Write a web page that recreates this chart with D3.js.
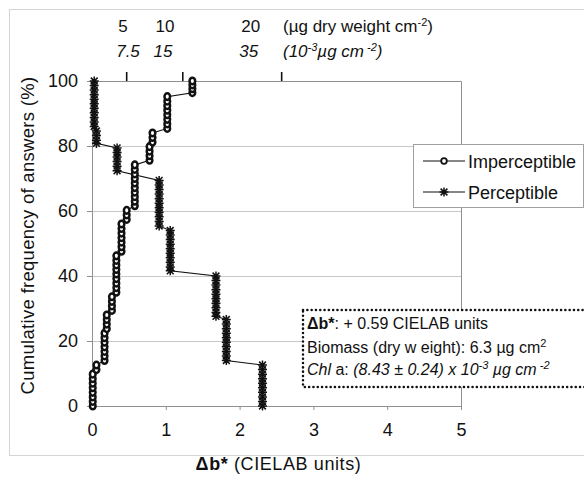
<!DOCTYPE html>
<html>
<head>
<meta charset="utf-8">
<script src="https://cdn.jsdelivr.net/npm/d3@7"></script>
<style>
  body { margin: 0; background: #fff; }
  text { font-family: "Liberation Sans", Arial, sans-serif; }
</style>
</head>
<body>
<div id="chart"></div>
<script>
// data
var imperX = [0.01,0.01,0.01,0.01,0.01,0.01,0.01,0.01,
              0.06,0.06,
              0.17,0.17,0.17,0.17,0.17,0.17,0.17,
              0.20,0.20,0.20,0.20,
              0.27,0.27,0.27,0.27,
              0.33,0.33,0.33,0.33,0.33,0.33,0.33,0.33,0.33,
              0.40,0.40,0.40,0.40,0.40,0.40,0.40,
              0.47,0.47,0.47,
              0.58,0.58,0.58,0.58,0.58,0.58,0.58,0.58,0.58,0.58,
              0.78,0.78,0.78,0.78,
              0.82,0.82,0.82,
              1.02,1.02,1.02,1.02,1.02,1.02,1.02,1.02,
              1.36,1.36,1.36,1.36];
var imperY = [0,1.4,2.8,4.2,5.6,7,8.4,9.8,
              11.2,12.6,
              14,15.4,16.8,18.2,19.6,21,22.4,
              23.8,25.2,26.6,28,
              29.4,30.8,32.2,33.6,
              35,36.4,37.8,39.2,40.6,42,43.4,44.8,46.2,
              47.6,49,50.4,51.8,53.2,54.6,56,
              57.4,58.8,60.2,
              61.6,63,64.4,65.8,67.2,68.6,70,71.4,72.8,74.2,
              75.6,77,78.4,79.8,
              81.2,82.6,84,
              85.4,86.8,88.2,89.6,91,92.4,93.8,95.2,
              96.4,97.6,98.8,100];

var percX = [0.03,0.03,0.03,0.03,0.03,0.03,0.03,0.03,0.03,0.03,0.03,
             0.06,0.06,0.06,0.06,
             0.34,0.34,0.34,0.34,0.34,0.34,
             0.91,0.91,0.91,0.91,0.91,0.91,0.91,0.91,0.91,0.91,0.91,
             1.06,1.06,1.06,1.06,1.06,1.06,1.06,1.06,1.06,1.06,
             1.68,1.68,1.68,1.68,1.68,1.68,1.68,1.68,1.68,1.68,
             1.82,1.82,1.82,1.82,1.82,1.82,1.82,1.82,1.82,1.82,
             2.31,2.31,2.31,2.31,2.31,2.31,2.31,2.31,2.31,2.31];
var percY = [100,98.6,97.2,95.8,94.4,93,91.6,90.2,88.8,87.4,86,
             84.6,83.2,81.8,80.8,
             79.4,78,76.6,75.2,73.8,72.4,
             69.4,68,66.6,65.2,63.8,62.4,61,59.6,58.2,56.8,55.4,
             54,52.6,51.2,49.8,48.4,47,45.6,44.2,42.8,41.6,
             40,38.6,37.2,35.8,34.4,33,31.6,30.2,28.8,27.6,
             26.6,25.2,23.8,22.4,21,19.6,18.2,16.8,15.4,14,
             12.6,11.2,9.8,8.4,7,5.6,4.2,2.8,1.4,0];

var xTicks = [0, 1, 2, 3, 4, 5];
var yTicks = [0, 20, 40, 60, 80, 100];

// secondary (top) scale: biomass and chl a
var topTickAt = [0.47, 1.23, 2.57];
var topLabelAt = [0.42, 0.99, 2.15];
var biomassLabels = ["5", "10", "20"];
var chlLabels = ["7.5", "15", "35"];

var margin = {top: 81, right: 123, bottom: 71, left: 92},
    width = 584 - margin.left - margin.right,
    height = 477 - margin.top - margin.bottom;

var root = d3.select("#chart")
  .append("svg")
    .attr("width", 584)
    .attr("height", 477);

// faint outer frame
root.append("rect")
    .attr("x", 9.5).attr("y", 9.5)
    .attr("width", 600).attr("height", 446)
    .attr("fill", "none")
    .attr("stroke", "#d4d4d4");

var svg = root.append("g")
    .attr("transform", "translate(" + margin.left + "," + margin.top + ")");

var x = d3.scaleLinear().domain([0, 5]).range([0, width]);
var y = d3.scaleLinear().domain([0, 100]).range([height, 0]);

// grid lines
svg.selectAll(".grid")
    .data(yTicks.filter(function(d) { return d > 0 && d < 100; }))
    .enter().append("line")
      .attr("x1", 0).attr("x2", width)
      .attr("y1", function(d) { return y(d) + 0.5; })
      .attr("y2", function(d) { return y(d) + 0.5; })
      .attr("stroke", "#c8c8c8");

// plot border top and right
svg.append("path")
    .attr("d", "M0," + (y(100) + 0.5) + "H" + (x(5) + 0.5) + "V" + y(0))
    .attr("fill", "none")
    .attr("stroke", "#909090");

// axes
var xAxis = svg.append("g")
    .attr("transform", "translate(0," + height + ")")
    .call(d3.axisBottom(x).tickValues(xTicks).tickSize(4).tickPadding(13).tickFormat(d3.format("d")));
var yAxis = svg.append("g")
    .call(d3.axisLeft(y).tickValues(yTicks).tickSize(5).tickPadding(9));
[xAxis, yAxis].forEach(function(a) {
  a.select(".domain").attr("stroke", "#909090");
  a.selectAll(".tick line").attr("stroke", "#909090");
  a.selectAll("text").attr("font-size", "18px").attr("fill", "#111")
    .style("font-family", "'Liberation Sans', Arial, sans-serif");
});

// axis titles
var xt = svg.append("text")
    .attr("x", width / 2 + 2)
    .attr("y", height + 64)
    .attr("text-anchor", "middle")
    .attr("font-size", "18px")
    .attr("letter-spacing", "0.6px")
    .attr("fill", "#111");
xt.append("tspan").attr("font-weight", "bold").text("\u0394b*");
xt.append("tspan").text(" (CIELAB units)");

svg.append("text")
    .attr("transform", "rotate(-90)")
    .attr("x", -(height / 2) + 8)
    .attr("y", 28 - margin.left + 6)
    .attr("text-anchor", "middle")
    .attr("font-size", "18.5px")
    .attr("letter-spacing", "0.3px")
    .attr("fill", "#111")
    .text("Cumulative frequency of answers (%)");

// top secondary axis ticks and labels
svg.selectAll(".ttick")
    .data(topTickAt)
    .enter().append("line")
      .attr("x1", function(d) { return x(d); })
      .attr("x2", function(d) { return x(d); })
      .attr("y1", -9).attr("y2", 0)
      .attr("stroke", "#111")
      .attr("stroke-width", 1.6);

svg.selectAll(".blab")
    .data(biomassLabels)
    .enter().append("text")
      .attr("x", function(d, i) { return x(topLabelAt[i]); })
      .attr("y", -49)
      .attr("text-anchor", "middle")
      .attr("font-size", "17px")
      .attr("fill", "#111")
      .text(function(d) { return d; });

svg.selectAll(".clab")
    .data(chlLabels)
    .enter().append("text")
      .attr("x", function(d, i) { return x(topLabelAt[i]) + (i === 0 ? 5 : -2); })
      .attr("y", -24)
      .attr("text-anchor", "middle")
      .attr("font-size", "17px")
      .attr("font-style", "italic")
      .attr("fill", "#111")
      .text(function(d) { return d; });

var u1 = svg.append("text")
    .attr("x", 283 - margin.left).attr("y", -49)
    .attr("font-size", "17px").attr("fill", "#111");
u1.append("tspan").text("(\u00b5g dry weight cm");
u1.append("tspan").attr("dy", -6).attr("font-size", "11px").text("-2");
u1.append("tspan").attr("dy", 6).text(")");

var u2 = svg.append("text")
    .attr("x", 283 - margin.left).attr("y", -24)
    .attr("font-size", "17px").attr("font-style", "italic").attr("fill", "#111");
u2.append("tspan").text("(10");
u2.append("tspan").attr("dy", -6).attr("font-size", "11px").text("-3");
u2.append("tspan").attr("dy", 6).text("\u00b5g cm");
u2.append("tspan").attr("dy", -6).attr("font-size", "11px").text(" -2");
u2.append("tspan").attr("dy", 6).text(")");

// series
var imper = imperX.map(function(d, i) { return [d, imperY[i]]; });
var perc = percX.map(function(d, i) { return [d, percY[i]]; });

var line = d3.line()
    .x(function(d) { return x(d[0]); })
    .y(function(d) { return y(d[1]); });

svg.append("path").datum(perc)
    .attr("d", line).attr("fill", "none").attr("stroke", "#111").attr("stroke-width", 1.1);
svg.append("path").datum(imper)
    .attr("d", line).attr("fill", "none").attr("stroke", "#111").attr("stroke-width", 1.1);

var starPath = "M-4.5,0H4.5M0,-4.5V4.5M-3.4,-3.4L3.4,3.4M-3.4,3.4L3.4,-3.4";

svg.selectAll(".star")
    .data(perc)
    .enter().append("path")
      .attr("transform", function(d) { return "translate(" + x(d[0]) + "," + y(d[1]) + ")"; })
      .attr("d", starPath)
      .attr("stroke", "#111")
      .attr("stroke-width", 1.5);

svg.selectAll(".circ")
    .data(imper)
    .enter().append("ellipse")
      .attr("cx", function(d) { return x(d[0]); })
      .attr("cy", function(d) { return y(d[1]); })
      .attr("rx", 2.8).attr("ry", 3.3)
      .attr("fill", "#fff")
      .attr("stroke", "#111")
      .attr("stroke-width", 2.5);

// legend
var lg = root.append("g");
lg.append("rect")
    .attr("x", 413.5).attr("y", 144.5)
    .attr("width", 170).attr("height", 63)
    .attr("fill", "#fff").attr("stroke", "#a0a0a0");
var legendItems = ["Imperceptible", "Perceptible"];
legendItems.forEach(function(name, i) {
  var ly = 161 + i * 31;
  lg.append("line")
    .attr("x1", 423).attr("x2", 465).attr("y1", ly).attr("y2", ly)
    .attr("stroke", "#111").attr("stroke-width", 1.1);
  if (i === 0) {
    lg.append("ellipse").attr("cx", 444).attr("cy", ly).attr("rx", 2.8).attr("ry", 2.8)
      .attr("fill", "#fff").attr("stroke", "#111").attr("stroke-width", 1.8);
  } else {
    lg.append("path").attr("transform", "translate(444," + ly + ")")
      .attr("d", starPath).attr("stroke", "#111").attr("stroke-width", 1.5);
  }
  lg.append("text")
    .attr("x", 468).attr("y", ly + 6.5)
    .attr("font-size", "18px").attr("fill", "#111")
    .text(name);
});

// annotation box
var an = root.append("g");
an.append("rect")
    .attr("x", 303).attr("y", 310)
    .attr("width", 300).attr("height", 77)
    .attr("fill", "#fff")
    .attr("stroke", "#111")
    .attr("stroke-width", 2.5)
    .attr("stroke-dasharray", "0.1 4.2")
    .attr("stroke-linecap", "round");

var t1 = an.append("text").attr("x", 307).attr("y", 329).attr("font-size", "16px").attr("fill", "#111");
t1.append("tspan").attr("font-weight", "bold").text("\u0394b*");
t1.append("tspan").text(": + 0.59 CIELAB units");

var t2 = an.append("text").attr("x", 307).attr("y", 353).attr("font-size", "16px").attr("fill", "#111");
t2.append("tspan").text("Biomass (dry w eight): 6.3 \u00b5g cm");
t2.append("tspan").attr("dy", -6).attr("font-size", "11px").text("2");

var t3 = an.append("text").attr("x", 307).attr("y", 375).attr("font-size", "16px").attr("fill", "#111");
t3.append("tspan").attr("font-style", "italic").text("Chl");
t3.append("tspan").text("  a: ");
t3.append("tspan").attr("font-style", "italic").text("(8.43 \u00b1 0.24) x 10");
t3.append("tspan").attr("dy", -6).attr("font-size", "11px").attr("font-style", "italic").text("-3");
t3.append("tspan").attr("dy", 6).attr("font-style", "italic").text(" \u00b5g cm");
t3.append("tspan").attr("dy", -6).attr("font-size", "11px").attr("font-style", "italic").text(" -2");
</script>
</body>
</html>
